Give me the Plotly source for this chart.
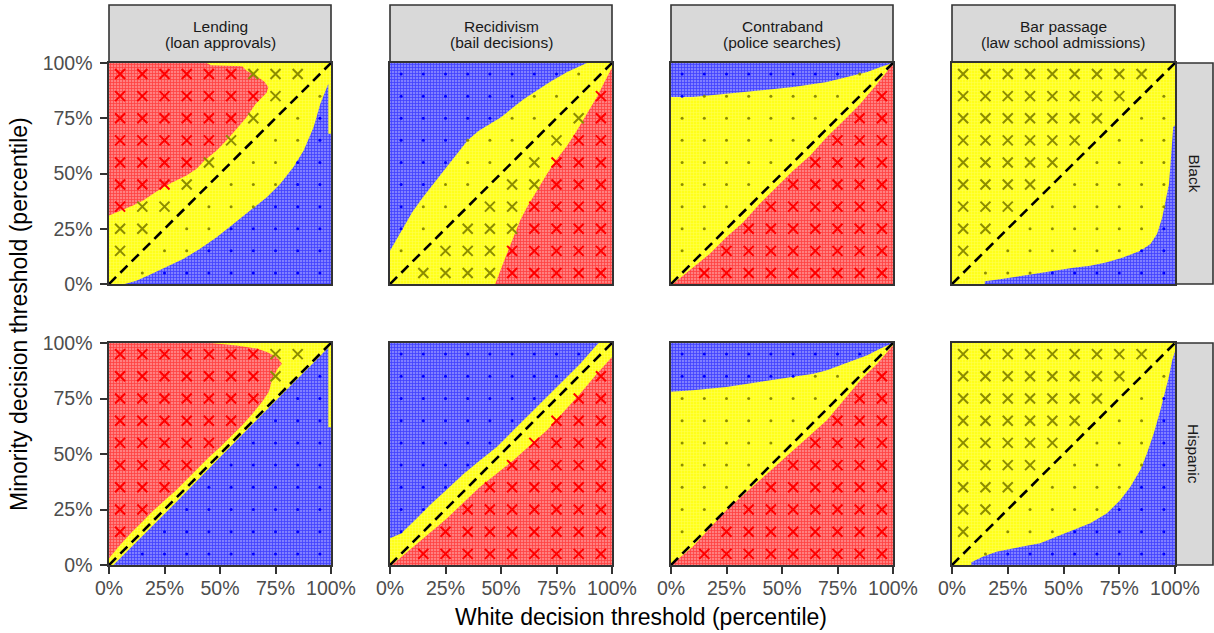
import plotly.graph_objects as go

W, H = 1214, 633

COL_LINE1 = ["Lending", "Recidivism", "Contraband", "Bar passage"]
COL_LINE2 = ["(loan approvals)", "(bail decisions)", "(police searches)", "(law school admissions)"]
ROW_LABELS = ["Black", "Hispanic"]
TICK_VALS = [0, 25, 50, 75, 100]
TICK_TEXT = ["0%", "25%", "50%", "75%", "100%"]
GRID = [5, 15, 25, 35, 45, 55, 65, 75, 85, 95]
DIAG = [0, 100]
X_SIDE = ["above", "below", "below", "above"]   # side of diagonal that gets "x" marks

# ---- region boundaries (x %, y %) ----
lending_black_red = [(44, 100), (46, 99), (60, 98.5), (62, 96.5), (66, 94.5), (70, 91.5), (71.8, 89),
                     (71, 86.5), (68, 83.5), (66, 81.5), (62, 75.5), (57.5, 70.2), (53, 65), (48.5, 60.4),
                     (43, 55.9), (39.5, 52.1), (34.9, 49.1), (28.9, 46.1), (24.4, 43.8), (19.9, 40.8),
                     (15.4, 37.8), (10.8, 35.5), (4.8, 33.2), (0, 31)]
lending_black_blue = [(7.1, 0), (12.3, 1.5), (18.4, 4.2), (25.9, 7.6), (33.4, 11.3), (41, 15.9), (48.5, 21.1),
                      (56, 27.2), (63.6, 33.2), (71.1, 39.3), (77.1, 45.3), (83.1, 52.9), (87.7, 60.4),
                      (92.2, 71), (95.2, 81.6), (97.4, 87.6), (98.8, 90.6), (98.8, 68), (100, 68)]
recid_black_blue = [(0, 15), (2.5, 19.5), (5, 24), (10, 32.5), (15, 39.5), (20, 46), (25, 52.5), (30, 59),
                    (35, 65), (40, 69.3), (45, 72.5), (50, 75.5), (55, 79.5), (60, 83.5), (66, 87.5),
                    (72, 91.4), (80, 96), (88.7, 100)]
recid_black_red = [(47.4, 0), (49.6, 6), (52.6, 13.6), (55.6, 21.1), (58.6, 28.7), (61.7, 34.7), (66.2, 42.3),
                   (70.7, 49.8), (75, 56.3), (79.7, 62.5), (84.2, 69.5), (88.7, 77), (93.2, 84.6), (96.2, 90.6),
                   (99.2, 96.7), (100, 98)]
contra_black_blue = [(0, 84.6), (9.8, 84.6), (24.9, 86.1), (40, 87.6), (55.1, 89.1), (70.2, 91.4), (79.3, 93.7),
                     (88.4, 95.9), (94.4, 98.2), (98.9, 99.7), (100, 100)]
contra_black_red = [(0.8, 0), (9.8, 7.6), (17.4, 13.6), (24.9, 21.1), (32.5, 27.9), (40, 36.3), (47.6, 43.8),
                    (55.1, 51.4), (62.7, 58.2), (70.2, 66.5), (77.8, 74), (85.3, 81.6), (92.9, 90.6),
                    (98.9, 98.2), (100, 99.5)]
bar_black_blue = [(14.7, 0), (14.7, 1.2), (21.5, 2.1), (29, 3.3), (36.5, 4.5), (42.5, 5.6), (54.5, 7.3),
                  (62, 8.3), (69.5, 9.8), (77, 12.1), (84.5, 15.1), (89, 18.1), (92, 22.7), (94.3, 30.2),
                  (95.8, 37.8), (97.3, 45.3), (98, 54.4), (98.8, 63.4), (99.2, 71), (100, 71.8)]
lending_hisp_red = [(46, 100), (57.5, 98.9), (66.6, 97.5), (71.1, 96), (75.6, 93.7), (77.9, 90.7), (76, 88.5),
                    (73.5, 83.5), (72, 78), (69, 73.5), (64.5, 68), (60, 63), (55, 58), (50, 53), (45, 48.5),
                    (40, 43.5), (35, 38.5), (30, 33.5), (25, 29), (20, 24.5), (15, 19.5), (10, 14.5), (5, 9),
                    (0, 3)]
lending_hisp_blue = [(2, 0), (30, 28), (50, 48.5), (70, 69), (85, 84), (92, 91), (97, 96.5), (98.8, 98),
                     (98.8, 62), (100, 62)]
recid_hisp_blue = [(0, 12), (5, 14.2), (10.5, 19.5), (18, 27), (25.6, 34), (33.1, 41), (40.6, 47.2),
                   (48.1, 53.2), (55.6, 60.7), (63.2, 68.2), (70.7, 75.7), (78.2, 83.2), (85.7, 90.7),
                   (91.7, 97.5), (94, 100)]
recid_hisp_red = [(0.8, 0), (10.5, 8.2), (25.6, 21), (40.6, 35.2), (55.6, 47.2), (70.7, 60.7), (85.7, 77.2),
                  (93.2, 86.2), (100, 93.7)]
contra_hisp_blue = [(0, 78), (9.8, 78.7), (24.9, 80.2), (40, 82.5), (55.1, 84.7), (64.2, 86.2), (70.2, 87.7),
                    (76.3, 90), (82.3, 92.2), (88.4, 94.5), (94.4, 97.5), (98.9, 99.4), (100, 100)]
contra_hisp_red = [(0, 0), (9.8, 8.2), (24.9, 24.7), (40, 38.2), (55.1, 51.7), (70.2, 65.2), (85.3, 83.2),
                   (92.9, 90.7), (100, 99)]
bar_hisp_blue = [(8.7, 0), (8.7, 1.2), (14, 3.8), (20, 6), (26, 7.2), (32, 8.3), (39.5, 9.8), (47, 12.8),
                 (54.5, 15.8), (62, 18.8), (69.5, 23.3), (75.5, 29.3), (80, 35.3), (84.5, 42.9), (87.5, 50.4),
                 (90.5, 59.4), (93.5, 69.9), (95.8, 78.9), (97.3, 85), (98.8, 92.5), (99.5, 95.5), (100, 96.2)]

TL, TR, BR = [(0, 100)], [(100, 100), (0, 100)], [(100, 0)]
# (row, col) -> list of (region, boundary, closing corners)
PANELS = {
    (0, 0): [("red", lending_black_red, TL), ("blue", lending_black_blue, BR)],
    (0, 1): [("blue", recid_black_blue, TL), ("red", recid_black_red, BR)],
    (0, 2): [("blue", contra_black_blue, TR), ("red", contra_black_red, BR)],
    (0, 3): [("blue", bar_black_blue, BR)],
    (1, 0): [("red", lending_hisp_red, TL), ("blue", lending_hisp_blue, BR)],
    (1, 1): [("blue", recid_hisp_blue, TL), ("red", recid_hisp_red, BR)],
    (1, 2): [("blue", contra_hisp_blue, TR), ("red", contra_hisp_red, BR)],
    (1, 3): [("blue", bar_hisp_blue, BR)],
}

# ---- style ----
FONT = "Liberation Sans, Arial, Helvetica, sans-serif"
FILL = {
    "yellow": dict(bgcolor="#ffff1a", fgcolor="#ffff99"),
    "red": dict(bgcolor="#ff8080", fgcolor="#ff0000"),
    "blue": dict(bgcolor="#8080ff", fgcolor="#0000ff"),
}
SOLID = {"yellow": 0.3, "red": 0.45, "blue": 0.45}
MARK = {"yellow": "#8c8c00", "red": "#ff0000", "blue": "#0000ff"}
COL_PX = [(109, 331), (390, 612), (671, 893), (952, 1175)]
ROW_PX = [(63, 284), (343, 565)]
STRIP_TOP = (5, 63)
STRIP_RIGHT = (1175, 1213)


def inside(px, py, poly):
    c = False
    n = len(poly)
    for i in range(n):
        x1, y1 = poly[i]
        x2, y2 = poly[(i + 1) % n]
        if (y1 > py) != (y2 > py):
            xi = x1 + (py - y1) * (x2 - x1) / (y2 - y1)
            if px < xi:
                c = not c
    return c


fig = go.Figure()

for (r, c), regions in PANELS.items():
    idx = r * 4 + c + 1
    xa = "x" if idx == 1 else f"x{idx}"
    ya = "y" if idx == 1 else f"y{idx}"
    fig.add_trace(go.Scatter(x=[0, 100, 100, 0], y=[0, 0, 100, 100], fill="toself", mode="lines",
                             line=dict(width=0), fillcolor=FILL["yellow"]["bgcolor"],
                             fillpattern=dict(shape="+", size=3, solidity=SOLID["yellow"], **FILL["yellow"]),
                             hoverinfo="skip", showlegend=False, xaxis=xa, yaxis=ya))
    polys = []
    for name, bnd, corners in regions:
        pts = list(bnd) + list(corners)
        polys.append((name, pts))
        fig.add_trace(go.Scatter(x=[p[0] for p in pts], y=[p[1] for p in pts], fill="toself", mode="lines",
                                 line=dict(width=0), fillcolor=FILL[name]["bgcolor"],
                                 fillpattern=dict(shape="+", size=3, solidity=SOLID[name], **FILL[name]),
                                 hoverinfo="skip", showlegend=False, xaxis=xa, yaxis=ya))
    xs_x, ys_x, col_x, xs_d, ys_d, col_d = [], [], [], [], [], []
    for gx in GRID:
        for gy in GRID:
            if gx == gy:
                continue
            reg = "yellow"
            for name, pts in polys:
                if inside(gx, gy, pts):
                    reg = name
            above = gy > gx
            is_x = above if X_SIDE[c] == "above" else (not above)
            if is_x:
                xs_x.append(gx); ys_x.append(gy); col_x.append(MARK[reg])
            else:
                xs_d.append(gx); ys_d.append(gy); col_d.append(MARK[reg])
    fig.add_trace(go.Scatter(x=xs_x, y=ys_x, mode="markers",
                             marker=dict(symbol="x-thin", size=10, line=dict(width=2, color=col_x)),
                             hoverinfo="skip", showlegend=False, xaxis=xa, yaxis=ya))
    fig.add_trace(go.Scatter(x=xs_d, y=ys_d, mode="markers",
                             marker=dict(symbol="circle", size=3, color=col_d, line=dict(width=0)),
                             hoverinfo="skip", showlegend=False, xaxis=xa, yaxis=ya))
    fig.add_trace(go.Scatter(x=DIAG, y=DIAG, mode="lines",
                             line=dict(color="black", width=2.6, dash="10px,6px"),
                             hoverinfo="skip", showlegend=False, xaxis=xa, yaxis=ya))

layout = dict(
    width=W, height=H, margin=dict(l=0, r=0, t=0, b=0),
    paper_bgcolor="white", plot_bgcolor="white", showlegend=False,
    font=dict(family=FONT, color="#1a1a1a"),
)
axis_common = dict(range=[0, 100], showgrid=False, zeroline=False, showline=True, mirror=True,
                   linecolor="#333333", linewidth=1.6, ticks="outside", ticklen=7, tickwidth=2,
                   tickcolor="#333333", tickvals=TICK_VALS, ticktext=TICK_TEXT,
                   tickfont=dict(size=19.5, color="#4d4d4d", family=FONT), automargin=False, fixedrange=True)
shapes, annots = [], []
for r in range(2):
    for c in range(4):
        idx = r * 4 + c + 1
        x0, x1 = COL_PX[c]
        y0, y1 = ROW_PX[r]
        xk = "xaxis" if idx == 1 else f"xaxis{idx}"
        yk = "yaxis" if idx == 1 else f"yaxis{idx}"
        layout[xk] = dict(axis_common, domain=[x0 / W, x1 / W], anchor=("y" if idx == 1 else f"y{idx}"),
                          showticklabels=(r == 1), ticklabelstandoff=-2)
        layout[yk] = dict(axis_common, domain=[1 - y1 / H, 1 - y0 / H], anchor=("x" if idx == 1 else f"x{idx}"),
                          showticklabels=(c == 0), ticklabelstandoff=4)
        if r == 0:
            layout[xk]["ticks"] = ""
        if c > 0:
            layout[yk]["ticks"] = ""

STRIP_FONT = dict(size=15.5, color="#1a1a1a", family=FONT)
for c in range(4):
    x0, x1 = COL_PX[c]
    shapes.append(dict(type="rect", xref="paper", yref="paper", x0=x0 / W, x1=x1 / W,
                       y0=1 - STRIP_TOP[1] / H, y1=1 - STRIP_TOP[0] / H,
                       fillcolor="#d9d9d9", line=dict(color="#333333", width=1.6), layer="below"))
    annots.append(dict(text=COL_LINE1[c], xref="paper", yref="paper", x=(x0 + x1) / 2 / W,
                       y=1 - 26 / H, showarrow=False, font=STRIP_FONT, xanchor="center", yanchor="middle"))
    annots.append(dict(text=COL_LINE2[c], xref="paper", yref="paper", x=(x0 + x1) / 2 / W,
                       y=1 - 43 / H, showarrow=False, font=STRIP_FONT, xanchor="center", yanchor="middle"))
for r in range(2):
    y0, y1 = ROW_PX[r]
    shapes.append(dict(type="rect", xref="paper", yref="paper", x0=STRIP_RIGHT[0] / W, x1=STRIP_RIGHT[1] / W,
                       y0=1 - y1 / H, y1=1 - y0 / H,
                       fillcolor="#d9d9d9", line=dict(color="#333333", width=1.6), layer="below"))
    annots.append(dict(text=ROW_LABELS[r], xref="paper", yref="paper", x=(STRIP_RIGHT[0] + STRIP_RIGHT[1]) / 2 / W,
                       y=1 - (y0 + y1) / 2 / H, showarrow=False, textangle=90,
                       font=STRIP_FONT, xanchor="center", yanchor="middle"))

annots.append(dict(text="White decision threshold (percentile)", xref="paper", yref="paper",
                   x=641 / W, y=1 - 617 / H, showarrow=False,
                   font=dict(size=23, color="black", family=FONT), xanchor="center", yanchor="middle"))
annots.append(dict(text="Minority decision threshold (percentile)", xref="paper", yref="paper",
                   x=19 / W, y=1 - (ROW_PX[0][0] + ROW_PX[1][1]) / 2 / H, showarrow=False, textangle=-90,
                   font=dict(size=23, color="black", family=FONT), xanchor="center", yanchor="middle"))

layout["shapes"] = shapes
layout["annotations"] = annots
fig.update_layout(**layout)
fig.write_html("out.html", config={"displayModeBar": False, "staticPlot": True},
               post_script="document.body.style.margin='0';document.body.style.overflow='hidden';")
